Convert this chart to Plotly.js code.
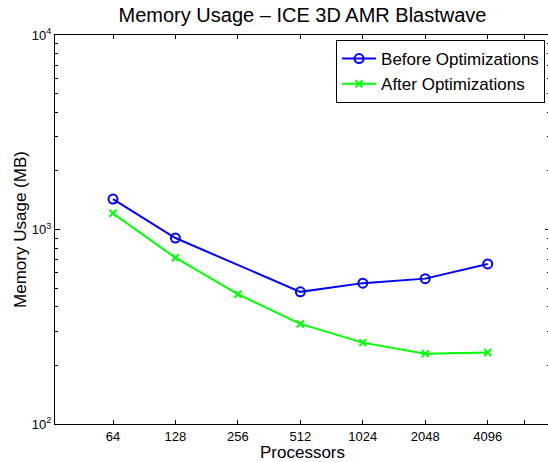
<!DOCTYPE html>
<html>
<head>
<meta charset="utf-8">
<script src="https://cdn.plot.ly/plotly-3.0.1.min.js"></script>
<style>
html,body{margin:0;padding:0;background:#fff;overflow:hidden;}
#chart{width:550px;height:462px;}
</style>
</head>
<body>
<div id="chart"></div>
<script>
// Data
const beforeProcs = [64, 128, 512, 1024, 2048, 4096];
const beforeMem = [1434, 904, 478, 530, 559, 665];
const afterProcs = [64, 128, 256, 512, 1024, 2048, 4096];
const afterMem = [1211, 716, 465, 327, 262, 230, 233];
const xTickVals = [64, 128, 256, 512, 1024, 2048, 4096, 6144];
const xTickText = ['64', '128', '256', '512', '1024', '2048', '4096', ' '];
const yTickVals = [100, 1000, 10000];
const yTickText = ['10<sup>2</sup>', '10<sup>3</sup>', '10<sup>4</sup>'];
const yMinorVals = [200,300,400,500,600,700,800,900,2000,3000,4000,5000,6000,7000,8000,9000];

const FONT = 'Liberation Sans, Arial, Helvetica, sans-serif';

const traces = [
  {
    x: beforeProcs, y: beforeMem, name: 'Before Optimizations',
    type: 'scatter', mode: 'lines+markers',
    line: {color: '#0000ff', width: 2},
    marker: {symbol: 'circle-open', size: 9, color: '#0000ff', line: {width: 2, color: '#0000ff'}}
  },
  {
    x: afterProcs, y: afterMem, name: 'After Optimizations',
    type: 'scatter', mode: 'lines+markers',
    line: {color: '#00ff00', width: 2},
    marker: {symbol: 'x-thin-open', size: 7, color: '#00ff00', line: {width: 2, color: '#00ff00'}}
  }
];

const layout = {
  width: 550, height: 462,
  margin: {l: 55, r: 0, t: 35, b: 38, pad: 0},
  paper_bgcolor: '#ffffff', plot_bgcolor: '#ffffff',
  font: {family: FONT, color: '#000', size: 13},
  title: {text: 'Memory Usage \u2013 ICE 3D AMR Blastwave', font: {family: FONT, size: 20, color: '#000'},
          x: 0.5, xref: 'paper', xanchor: 'center', y: 1 - 15/462, yref: 'container', yanchor: 'middle'},
  showlegend: true,
  legend: {x: 0.99, xanchor: 'right', y: 0.987, yanchor: 'top', bgcolor: '#fff',
           bordercolor: '#000', borderwidth: 1, font: {family: FONT, size: 17, color: '#000'},
           tracegroupgap: 0, itemwidth: 34},
  xaxis: {
    type: 'log', range: [1.5266, 3.9127], autorange: false,
    tickmode: 'array', tickvals: xTickVals, ticktext: xTickText,
    ticks: 'inside', ticklen: 4, tickwidth: 1, tickcolor: '#000',
    showline: true, linecolor: '#000', linewidth: 1, mirror: 'allticks',
    showgrid: false, zeroline: false,
    tickfont: {family: FONT, size: 13, color: '#000'},
    title: {text: 'Processors', font: {family: FONT, size: 17, color: '#000'}, standoff: 4},
    automargin: false
  },
  yaxis: {
    type: 'log', range: [2, 4], autorange: false,
    tickmode: 'array', tickvals: yTickVals, ticktext: yTickText,
    ticks: 'inside', ticklen: 5, tickwidth: 1, tickcolor: '#000',
    minor: {tickmode: 'array', tickvals: yMinorVals, ticks: 'inside', ticklen: 3, tickcolor: '#000', showgrid: false},
    showline: true, linecolor: '#000', linewidth: 1, mirror: 'allticks',
    showgrid: false, zeroline: false,
    tickfont: {family: FONT, size: 13, color: '#000'},
    title: {text: 'Memory Usage (MB)', font: {family: FONT, size: 17, color: '#000'}, standoff: 0},
    automargin: false
  }
};

Plotly.newPlot('chart', traces, layout, {displayModeBar: false, staticPlot: true});
</script>
</body>
</html>
